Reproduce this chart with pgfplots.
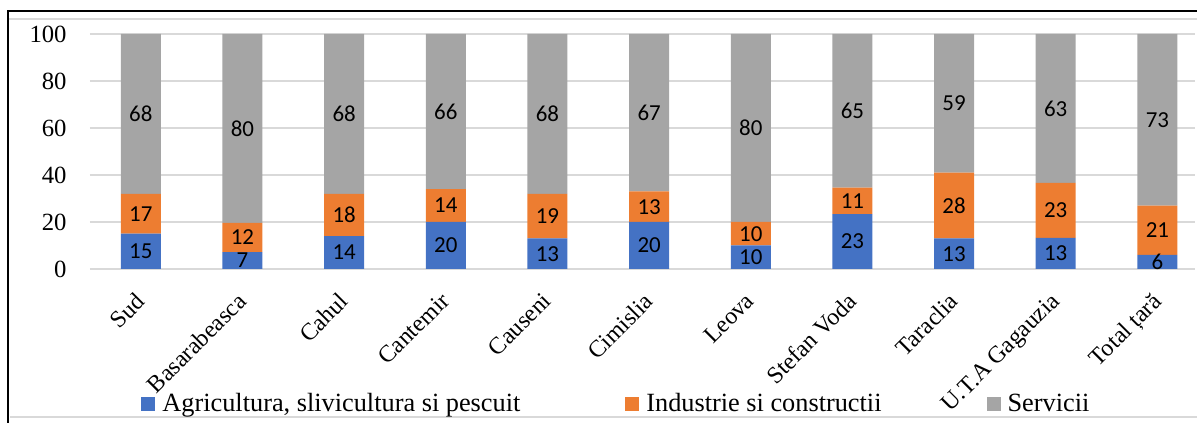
\documentclass[border=0pt]{standalone}
\usepackage{pgfplots}
\pgfplotsset{compat=1.18}
\usepackage{fontspec}
\setmainfont{Liberation Serif}
\newfontfamily\carlito{Carlito}
\definecolor{cBlue}{HTML}{4472C4}
\definecolor{cOrange}{HTML}{ED7D31}
\definecolor{cGray}{HTML}{A5A5A5}
\definecolor{cGrid}{HTML}{D9D9D9}
\begin{document}
\begin{tikzpicture}
\useasboundingbox (0bp,0bp) rectangle (598.5bp,211.5bp);
\draw[cGrid, line width=0.9bp] (4.5bp,202bp) -- (598.5bp,202bp);
\draw[cGrid, line width=0.9bp] (5bp,3bp) -- (598.5bp,3bp);
\draw[black, line width=1.2bp] (4bp,0bp) -- (4bp,206bp) -- (598.5bp,206bp);
\begin{axis}[
  at={(45bp,77bp)}, anchor=south west,
  scale only axis, width=552.5bp, height=117.5bp,
  ybar stacked, bar width=20bp,
  xmin=-0.5, xmax=10.37, ymin=0, ymax=100,
  clip=false,
  axis line style={draw=none},
  major tick length=0pt,
  ymajorgrids, grid style={cGrid, line width=0.9bp},
  ytick={0,20,40,60,80,100},
  /pgf/number format/assume math mode=true,
  yticklabel style={font=\fontsize{12.4}{13}\selectfont, anchor=east, inner sep=0pt, xshift=-11.5bp},
  xtick={0,1,2,3,4,5,6,7,8,9,10},
  xticklabels={Sud, Basarabeasca, Cahul, Cantemir, Causeni, Cimislia, Leova, Stefan Voda, Taraclia, U.T.A Gagauzia, Total țară},
  xticklabel style={rotate=45, anchor=north east, inner sep=0pt, xshift=-10bp, yshift=-5.5bp, font=\fontsize{12}{13}\selectfont},
  nodes near coords={\pgfmathprintnumber[fixed,precision=0]{\pgfplotspointmeta}},
  every node near coord/.append style={font=\carlito\fontsize{11.5}{12}\selectfont, text=black, anchor=center},
  legend columns=3,
  legend style={at={(0.0462,-0.5745)}, anchor=west, draw=none, fill=none, inner sep=0pt,
    font=\fontsize{13.2}{14}\selectfont,
    nodes={inner xsep=3.5bp, inner ysep=0pt},
    /tikz/every even column/.append style={column sep=49bp}},
  legend image code/.code={\fill[#1] (0bp,-3.5bp) rectangle (7bp,3.5bp);},
]
\addplot[fill=cBlue, draw=none] coordinates {(0,15) (1,7.2) (2,14) (3,20) (4,13) (5,20) (6,10) (7,23.4) (8,13) (9,13.2) (10,6)};
\addplot[fill=cOrange, draw=none] coordinates {(0,17) (1,12.4) (2,18) (3,14) (4,19) (5,13) (6,10) (7,11.2) (8,28) (9,23.4) (10,21)};
\addplot[fill=cGray, draw=none] coordinates {(0,68) (1,80.4) (2,68) (3,66) (4,68) (5,67) (6,80) (7,65.4) (8,59) (9,63.4) (10,73)};
\legend{{Agricultura, slivicultura si pescuit}, Industrie si constructii, Servicii}
\end{axis}
\end{tikzpicture}
\end{document}
